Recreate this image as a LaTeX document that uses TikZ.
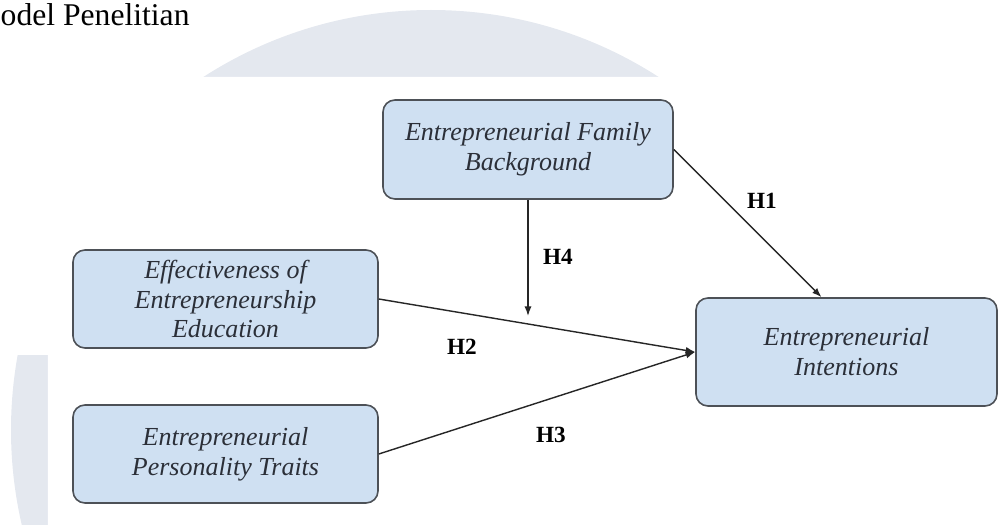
\documentclass[tikz,border=0pt]{standalone}
\usepackage{fontspec}
\setmainfont{Liberation Serif}
\usetikzlibrary{arrows.meta}
\definecolor{boxfill}{HTML}{CFE0F2}
\definecolor{boxline}{HTML}{4D5157}
\definecolor{boxtext}{HTML}{2B2F38}
\definecolor{wmark}{HTML}{E4E8EF}

\begin{document}
\begin{tikzpicture}[
        box/.style={draw=boxline, line width=0.45pt, fill=boxfill, rounded corners=0.12cm, inner sep=0pt, align=center, text=boxtext, font=\fontsize{7.4}{8.5}\selectfont\itshape},
        arr/.style={draw=black!85, line width=0.4pt, -{Latex[length=0.95mm,width=0.7mm]}},
        hyp/.style={inner sep=0pt, font=\fontsize{6.6}{7.5}\selectfont\bfseries}]
        \useasboundingbox (0, 0) rectangle (9.98, 5.25);
        \fill[wmark] (4.31, 0.95) circle (4.20);
        \fill[white] (0, 4.48) -- (9.98, 4.48) -- (9.98, 0) -- (0.48, 0) -- (0.48, 1.70) -- (0, 1.70) -- cycle;
        \node[anchor=base west, inner sep=0pt, font=\fontsize{9}{10.5}\selectfont] (title) at (0, 4.99) {odel Penelitian};

        \node[box, minimum width=2.90cm, minimum height=0.99cm] (fam) at (5.28, 3.755) {Entrepreneurial Family\\Background};
        \node[box, minimum width=3.05cm, minimum height=0.98cm] (eff) at (2.255, 2.26) {Effectiveness of\\Entrepreneurship\\Education};
        \node[box, minimum width=3.05cm, minimum height=0.98cm] (pers) at (2.255, 0.71) {Entrepreneurial\\Personality Traits};
        \node[box, minimum width=3.01cm, minimum height=1.08cm] (int) at (8.465, 1.73) {Entrepreneurial\\Intentions};

        \coordinate (mod) at (5.28, 2.09);

        \draw[arr] (fam.east) -- ([xshift=-0.25cm]int.north);
        \draw[arr] (fam.south) -- (mod);
        \draw[arr] (eff.east) -- (int.west);
        \draw[arr] (pers.east) -- (int.west);

        \node[hyp] (h1) at (7.62, 3.24) {H1};
        \node[hyp] (h4) at (5.58, 2.68) {H4};
        \node[hyp] (h2) at (4.62, 1.78) {H2};
        \node[hyp] (h3) at (5.51, 0.90) {H3};
\end{tikzpicture}
\end{document}
